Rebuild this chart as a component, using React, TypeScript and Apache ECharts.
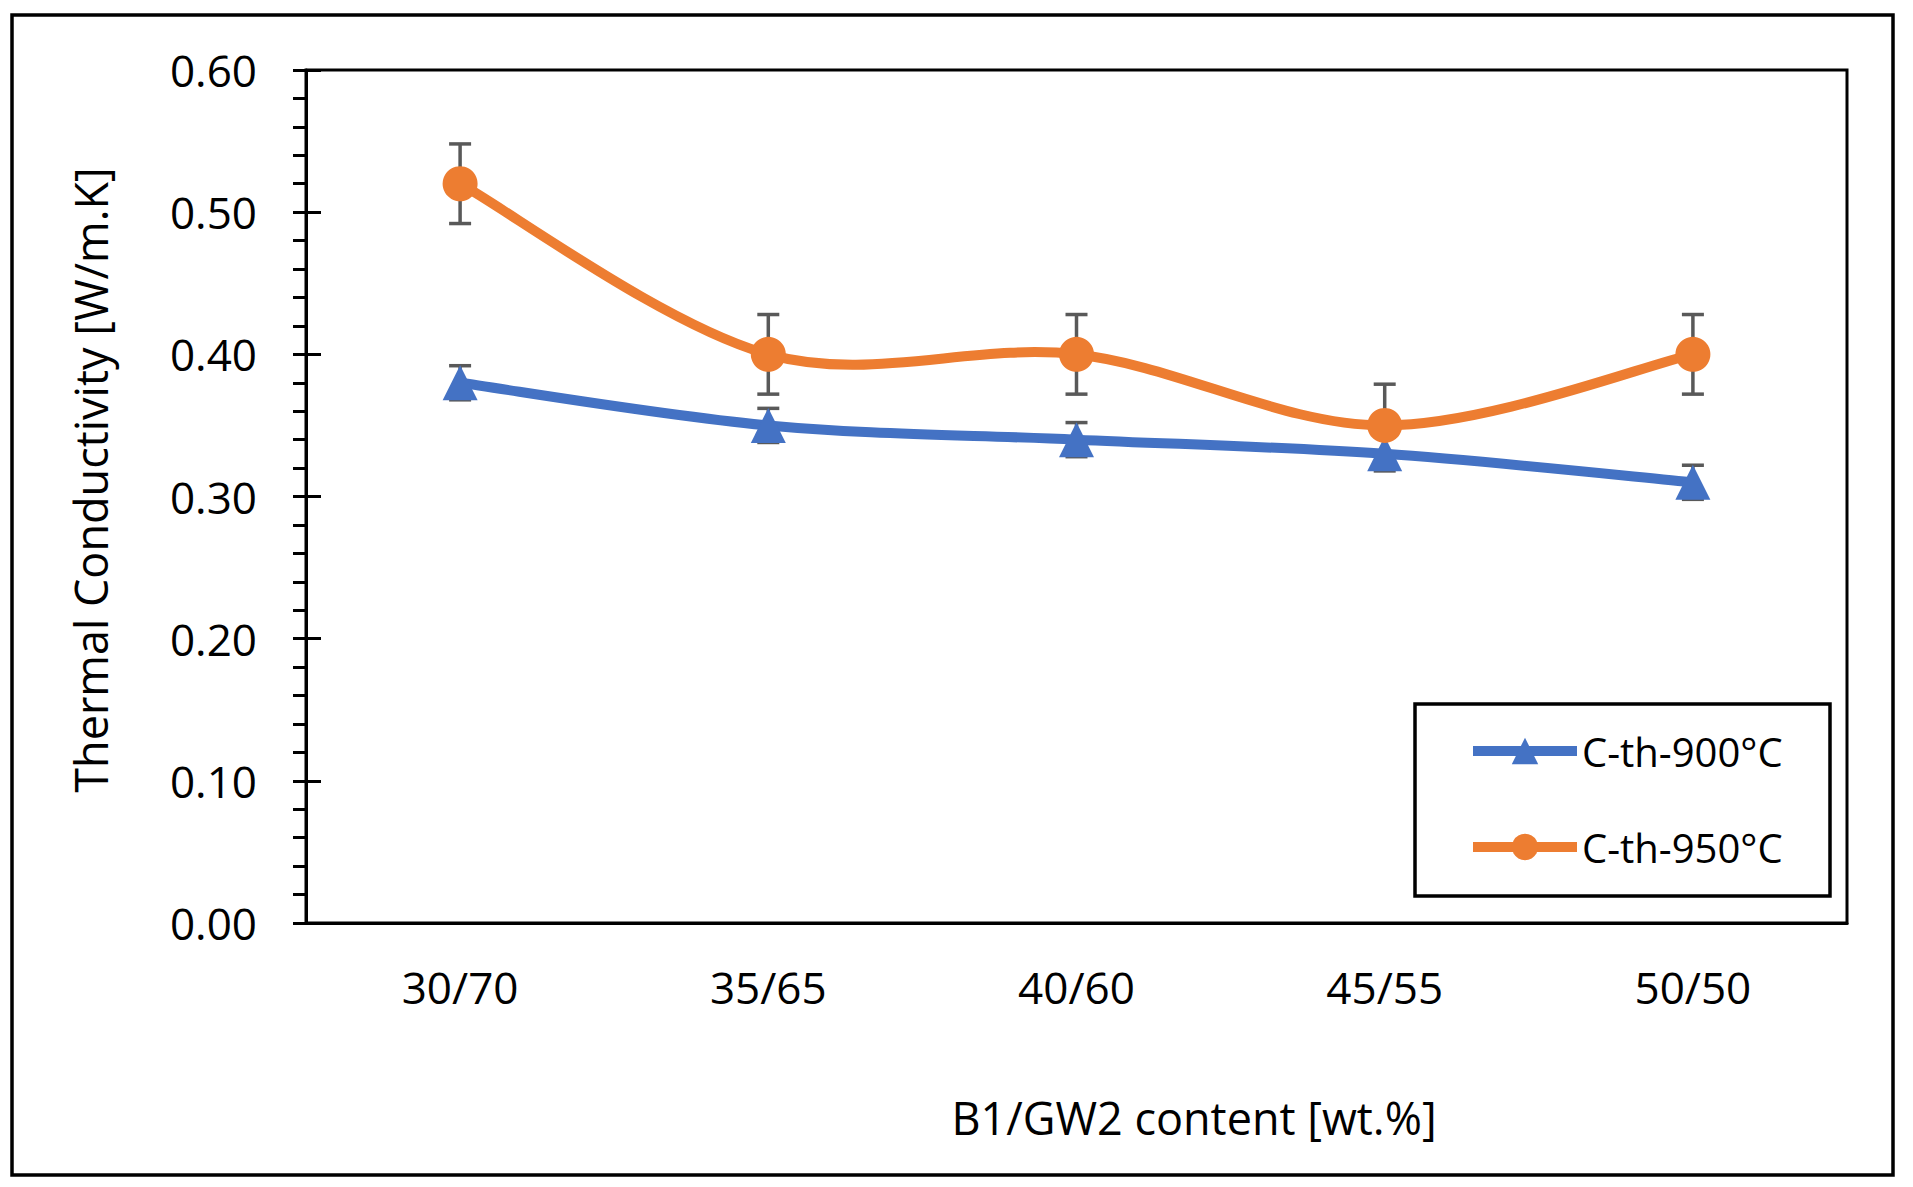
import React, { useEffect, useRef } from "react";
import * as echarts from "echarts";

const categories = ["30/70", "35/65", "40/60", "45/55", "50/50"];
const seriesNames = ["C-th-900°C", "C-th-950°C"];
const values900 = [0.38, 0.35, 0.34, 0.33, 0.31];
const errors900 = [0.012, 0.012, 0.012, 0.012, 0.012];
const values950 = [0.52, 0.40, 0.40, 0.35, 0.40];
const errors950 = [0.028, 0.028, 0.028, 0.029, 0.028];
const yTicks = [0, 0.1, 0.2, 0.3, 0.4, 0.5, 0.6];
const xTitle = "B1/GW2 content [wt.%]";
const yTitle = "Thermal Conductivity [W/m.K]";

const FONT = "'Open Sans', 'Noto Sans', sans-serif";
const BLUE = "#4472C4";
const ORANGE = "#ED7D31";
const ERR = "#595959";
const LINE_W = 10;

function errorRender(params: any, api: any) {
  const x = api.value(0);
  const v = api.value(1);
  const e = api.value(2);
  const top = api.coord([x, v + e]);
  const bot = api.coord([x, v - e]);
  const hw = 11;
  const style = { stroke: ERR, lineWidth: 3.5, fill: "none" };
  return {
    type: "group",
    children: [
      { type: "line", shape: { x1: top[0], y1: top[1], x2: bot[0], y2: bot[1] }, style },
      { type: "line", shape: { x1: top[0] - hw, y1: top[1], x2: top[0] + hw, y2: top[1] }, style },
      { type: "line", shape: { x1: bot[0] - hw, y1: bot[1], x2: bot[0] + hw, y2: bot[1] }, style },
    ],
  };
}

// Excel-like (Catmull-Rom) smoothed segment between point i and i+1
function makeCurveRender(values: number[], color: string) {
  return (params: any, api: any) => {
    const i = params.dataIndex;
    const n = values.length;
    if (i >= n - 1) return { type: "group", children: [] };
    const p = (k: number) => {
      const kk = Math.max(0, Math.min(n - 1, k));
      return api.coord([kk, values[kk]]);
    };
    const p0 = p(i - 1);
    const p1 = p(i);
    const p2 = p(i + 1);
    const p3 = p(i + 2);
    const t = 1 / 6;
    return {
      type: "bezierCurve",
      shape: {
        x1: p1[0],
        y1: p1[1],
        cpx1: p1[0] + (p2[0] - p0[0]) * t,
        cpy1: p1[1] + (p2[1] - p0[1]) * t,
        cpx2: p2[0] - (p3[0] - p1[0]) * t,
        cpy2: p2[1] - (p3[1] - p1[1]) * t,
        x2: p2[0],
        y2: p2[1],
      },
      style: { stroke: color, lineWidth: LINE_W, fill: "none", lineCap: "round" },
    };
  };
}

export default function App() {
  const ref = useRef<HTMLDivElement>(null);
  useEffect(() => {
    if (!ref.current) return;
    const chart = echarts.init(ref.current, undefined, { renderer: "svg" });
    const yMin = yTicks[0];
    const yMax = yTicks[yTicks.length - 1];
    const interval = yTicks[1] - yTicks[0];
    const option: any = {
      animation: false,
      backgroundColor: "#ffffff",
      grid: {
        left: 306,
        top: 70,
        right: 66,
        bottom: 264,
        show: true,
        borderColor: "#000",
        borderWidth: 3,
        backgroundColor: "transparent",
      },
      xAxis: {
        type: "category",
        data: categories,
        boundaryGap: true,
        axisLine: { show: true, lineStyle: { color: "#000", width: 3 } },
        axisTick: { show: false },
        axisLabel: { margin: 42, fontSize: 44, fontFamily: FONT, color: "#000" },
        splitLine: { show: false },
      },
      yAxis: [
        {
          type: "value",
          min: yMin,
          max: yMax,
          interval,
          axisLine: { show: true, lineStyle: { color: "#000", width: 3 } },
          axisTick: { show: true, inside: false, length: 13, lineStyle: { color: "#000", width: 3 } },
          minorTick: { show: true, splitNumber: 5, length: 13, lineStyle: { color: "#000", width: 3 } },
          axisLabel: {
            margin: 49,
            fontSize: 44,
            fontFamily: FONT,
            color: "#000",
            formatter: (v: number) => v.toFixed(2),
          },
          splitLine: { show: false },
        },
        {
          type: "value",
          min: yMin,
          max: yMax,
          interval,
          position: "left",
          axisLine: { show: false },
          axisTick: { show: true, inside: true, length: 15, lineStyle: { color: "#000", width: 3 } },
          axisLabel: { show: false },
          splitLine: { show: false },
        },
      ],
      legend: {
        data: seriesNames,
        orient: "vertical",
        left: 1468,
        top: 731,
        padding: 0,
        itemWidth: 104,
        itemHeight: 33,
        itemGap: 56,
        z: 20,
        lineStyle: { opacity: 1, width: LINE_W },
        textStyle: { fontSize: 40, fontFamily: FONT, color: "#000" },
      },
      series: [
        {
          name: "err900",
          type: "custom",
          renderItem: errorRender,
          data: categories.map((c, i) => [i, values900[i], errors900[i]]),
          encode: { x: 0, y: 1 },
          z: 1,
          silent: true,
        },
        {
          name: "err950",
          type: "custom",
          renderItem: errorRender,
          data: categories.map((c, i) => [i, values950[i], errors950[i]]),
          encode: { x: 0, y: 1 },
          z: 1,
          silent: true,
        },
        {
          name: "curve900",
          type: "custom",
          renderItem: makeCurveRender(values900, BLUE),
          data: categories.map((c, i) => [i, values900[i]]),
          encode: { x: 0, y: 1 },
          z: 2,
          silent: true,
        },
        {
          name: "curve950",
          type: "custom",
          renderItem: makeCurveRender(values950, ORANGE),
          data: categories.map((c, i) => [i, values950[i]]),
          encode: { x: 0, y: 1 },
          z: 2,
          silent: true,
        },
        {
          name: seriesNames[0],
          type: "line",
          data: values900,
          symbol: "triangle",
          symbolSize: 35,
          color: BLUE,
          itemStyle: { color: BLUE },
          lineStyle: { color: BLUE, width: LINE_W, opacity: 0 },
          z: 3,
        },
        {
          name: seriesNames[1],
          type: "line",
          data: values950,
          symbol: "circle",
          symbolSize: 35,
          color: ORANGE,
          itemStyle: { color: ORANGE },
          lineStyle: { color: ORANGE, width: LINE_W, opacity: 0 },
          z: 4,
        },
      ],
      graphic: [
        {
          type: "rect",
          shape: { x: 12, y: 15, width: 1881, height: 1160 },
          style: { fill: "none", stroke: "#000", lineWidth: 3.5 },
          z: 0,
          silent: true,
        },
        {
          type: "rect",
          shape: { x: 1415, y: 704, width: 415, height: 192 },
          style: { fill: "#fff", stroke: "#000", lineWidth: 3.5 },
          z: 5,
          silent: true,
        },
        {
          type: "text",
          x: 1194,
          y: 1117,
          style: {
            text: xTitle,
            fontSize: 45,
            fontFamily: FONT,
            fill: "#000",
            align: "center",
            verticalAlign: "middle",
          },
        },
        {
          type: "text",
          x: 90,
          y: 480,
          rotation: Math.PI / 2,
          style: {
            text: yTitle,
            fontSize: 45,
            fontFamily: FONT,
            fill: "#000",
            align: "center",
            verticalAlign: "middle",
          },
        },
      ],
    };
    chart.setOption(option);
    return () => chart.dispose();
  }, []);
  return (
    <div
      ref={ref}
      style={{ position: "absolute", left: 0, top: 0, width: 1913, height: 1187, background: "#fff" }}
    />
  );
}
